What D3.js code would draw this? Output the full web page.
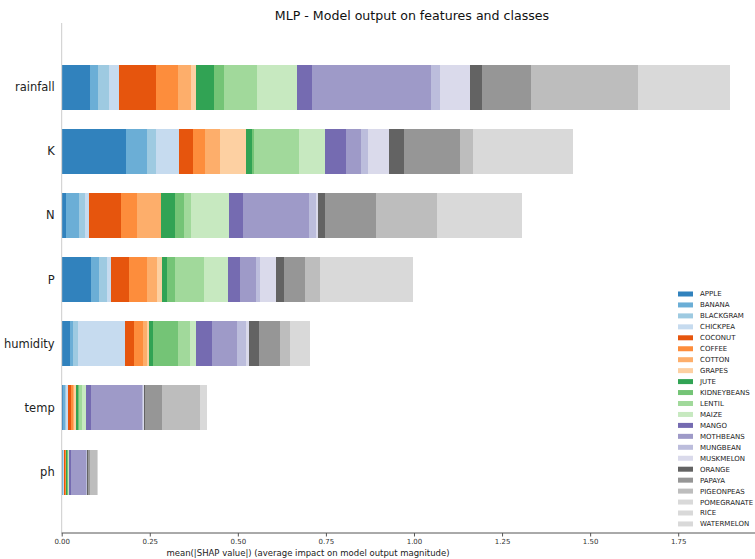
<!DOCTYPE html>
<html>
<head>
<meta charset="utf-8">
<script src="https://cdn.jsdelivr.net/npm/d3@7"></script>
<style>
  html, body { margin: 0; padding: 0; background: #fff; }
  svg { display: block; font-family: "DejaVu Sans", sans-serif; }
</style>
</head>
<body>
<svg id="chart" width="755" height="559"></svg>
<script>
// Features, top to bottom
const features = ["rainfall", "K", "N", "P", "humidity", "temp", "ph"];

// Output classes (stacking order)
const classes = ["APPLE", "BANANA", "BLACKGRAM", "CHICKPEA", "COCONUT", "COFFEE",
  "COTTON", "GRAPES", "JUTE", "KIDNEYBEANS", "LENTIL", "MAIZE", "MANGO",
  "MOTHBEANS", "MUNGBEAN", "MUSKMELON", "ORANGE", "PAPAYA", "PIGEONPEAS",
  "POMEGRANATE", "RICE", "WATERMELON"];

// mean(|SHAP value|) per class, one array per feature
const rainfall = [0.081, 0.023, 0.030, 0.029, 0.106, 0.060, 0.037, 0.015, 0.051, 0.028, 0.095,
  0.112, 0.044, 0.338, 0.024, 0.086, 0.035, 0.139, 0.304, 0.095, 0.088, 0.078];
const K = [0.183, 0.060, 0.026, 0.065, 0.039, 0.035, 0.040, 0.074, 0.017, 0.007, 0.129,
  0.071, 0.060, 0.045, 0.018, 0.061, 0.043, 0.158, 0.037, 0.098, 0.095, 0.090];
const N = [0.012, 0.037, 0.017, 0.012, 0.090, 0.047, 0.066, 0.002, 0.039, 0.025, 0.020,
  0.108, 0.040, 0.188, 0.018, 0.007, 0.019, 0.145, 0.174, 0.085, 0.080, 0.077];
const P = [0.082, 0.024, 0.023, 0.010, 0.052, 0.051, 0.028, 0.016, 0.014, 0.021, 0.082,
  0.070, 0.034, 0.044, 0.013, 0.045, 0.021, 0.061, 0.042, 0.090, 0.088, 0.085];
const humidity = [0.024, 0.009, 0.014, 0.132, 0.026, 0.026, 0.011, 0.005, 0.011, 0.073, 0.032,
  0.018, 0.047, 0.069, 0.025, 0.011, 0.026, 0.060, 0.029, 0.020, 0.019, 0.018];
const temp = [0.004, 0.004, 0.004, 0.007, 0.006, 0.006, 0.005, 0.005, 0.004, 0.004, 0.010,
  0.009, 0.014, 0.147, 0.002, 0.002, 0.004, 0.047, 0.108, 0.007, 0.007, 0.007];
const ph = [0.002, 0.002, 0.001, 0.001, 0.003, 0.002, 0.001, 0.001, 0.002, 0.002, 0.002,
  0.002, 0.004, 0.044, 0.002, 0.002, 0.003, 0.005, 0.018, 0.001, 0.001, 0.001];

const featureValues = [rainfall, K, N, P, humidity, temp, ph];

// x-axis ticks
const xTicks = [0, 0.25, 0.5, 0.75, 1.0, 1.25, 1.5, 1.75];

// tab20c palette; classes past the 20th reuse the last colour
const tab20c = ["#3182bd", "#6baed6", "#9ecae1", "#c6dbef", "#e6550d", "#fd8d3c",
  "#fdae6b", "#fdd0a2", "#31a354", "#74c476", "#a1d99b", "#c7e9c0", "#756bb1",
  "#9e9ac8", "#bcbddc", "#dadaeb", "#636363", "#969696", "#bdbdbd", "#d9d9d9"];
const color = d3.scaleOrdinal()
  .domain(classes)
  .range(classes.map((c, i) => tab20c[Math.min(i, tab20c.length - 1)]));

const svg = d3.select("#chart");
const plotLeft = 61.7, plotRight = 755, plotTop = 23, plotBottom = 533;

const x = d3.scaleLinear().domain([0, 1.75]).range([plotLeft, 678.2]);
const y = d3.scaleLinear().domain([-1, 6.95]).range([plotTop, plotBottom]);
const barH = y(0.7) - y(0);

// Stacked segments
const segs = [];
features.forEach((f, fi) => {
  const vals = featureValues[fi];
  const ends = d3.cumsum(vals);
  vals.forEach((v, ci) => {
    segs.push({ feature: f, fi, cls: classes[ci], x0: ends[ci] - v, x1: ends[ci] });
  });
});

svg.append("g")
  .attr("shape-rendering", "crispEdges")
  .selectAll("rect")
  .data(segs)
  .join("rect")
  .attr("x", d => x(d.x0))
  .attr("width", d => Math.max(0, x(d.x1) - x(d.x0)))
  .attr("y", d => y(d.fi) - barH / 2)
  .attr("height", barH)
  .attr("fill", d => color(d.cls));

// Left spine
svg.append("line")
  .attr("x1", plotLeft).attr("x2", plotLeft)
  .attr("y1", plotTop).attr("y2", plotBottom)
  .attr("stroke", "#cccccc").attr("stroke-width", 1);

// Feature labels
svg.append("g").selectAll("text")
  .data(features)
  .join("text")
  .attr("x", plotLeft - 7)
  .attr("y", (d, i) => y(i))
  .attr("dy", "0.35em")
  .attr("text-anchor", "end")
  .attr("font-size", 11.5)
  .attr("fill", "#222")
  .text(d => d);

// Bottom axis
const xAxis = d3.axisBottom(x)
  .tickValues(xTicks)
  .tickFormat(d3.format(".2f"))
  .tickSize(3.5)
  .tickPadding(2.5);
const gx = svg.append("g")
  .attr("transform", `translate(0,${plotBottom})`)
  .call(xAxis);
gx.select(".domain").attr("stroke", "#555").attr("d", `M${plotLeft},0H${plotRight}`);
gx.selectAll(".tick line").attr("stroke", "#555");
gx.selectAll(".tick text")
  .attr("font-size", 7)
  .attr("fill", "#333")
  .attr("font-family", "DejaVu Sans, sans-serif");

// x label
svg.append("text")
  .attr("x", 308)
  .attr("y", 556)
  .attr("text-anchor", "middle")
  .attr("font-size", 8.5)
  .attr("fill", "#222")
  .text("mean(|SHAP value|) (average impact on model output magnitude)");

// Title
svg.append("text")
  .attr("x", 412)
  .attr("y", 20)
  .attr("text-anchor", "middle")
  .attr("font-size", 12.6)
  .attr("fill", "#111")
  .text("MLP - Model output on features and classes");

// Legend
const legend = svg.append("g").attr("transform", "translate(678,294)");
const item = legend.selectAll("g")
  .data(classes)
  .join("g")
  .attr("transform", (d, i) => `translate(0,${i * 10.95})`);
item.append("rect")
  .attr("x", 0).attr("y", -2.5)
  .attr("width", 15).attr("height", 5)
  .attr("fill", d => color(d));
item.append("text")
  .attr("x", 22)
  .attr("y", 0)
  .attr("dy", "0.35em")
  .attr("font-size", 7)
  .attr("fill", "#222")
  .text(d => d);
</script>
</body>
</html>
